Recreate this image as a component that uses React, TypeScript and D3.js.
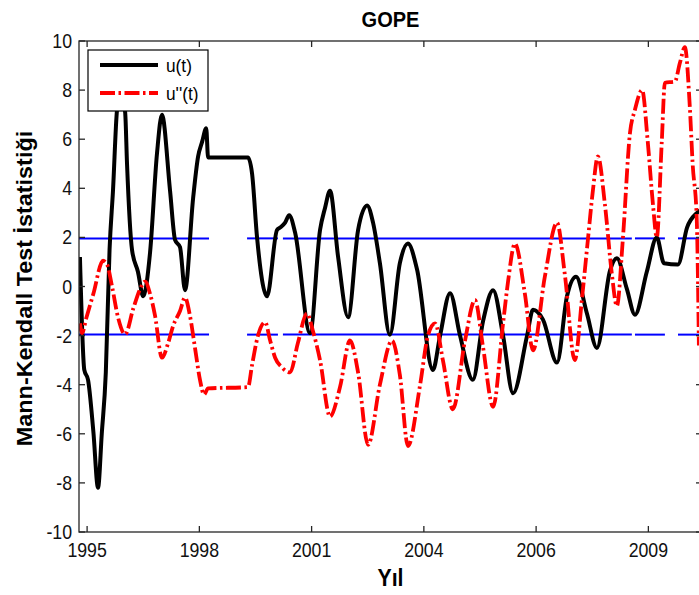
import React from "react";
import * as d3 from "d3";

const W = 699;
const H = 595;

// x positions are a running time index; tick labels are the printed years
const xTickIdx = [0, 36, 72, 108, 144, 180];
const xTickLabels = ["1995", "1998", "2001", "2004", "2006", "2009"];
const yTickValues = [-10, -8, -6, -4, -2, 0, 2, 4, 6, 8, 10];

// u(t) – progressive Mann-Kendall statistic
const uIdx = [-2.3, -0.9, 0.3, 2.0, 3.5, 4.7, 6.0, 7.2, 8.3, 9.6, 10.8, 12.2, 12.8, 14.4, 16.3, 18.0, 20.2, 22.4, 24.0, 26.6, 28.2, 29.8, 31.4, 34.0, 35.6, 36.9, 38.2, 38.8, 51.6, 52.9, 54.5, 57.7, 60.9, 61.9, 63.5, 64.8, 66.7, 71.5, 74.7, 76.3, 77.9, 80.5, 83.7, 86.9, 89.8, 91.7, 93.9, 97.1, 100.3, 102.9, 105.8, 110.9, 113.2, 116.4, 119.6, 123.7, 127.0, 130.2, 133.4, 136.6, 141.1, 143.0, 146.2, 150.7, 153.9, 156.8, 160.3, 163.5, 167.7, 169.9, 173.1, 175.7, 179.5, 182.7, 185.0, 189.5, 192.4, 195.6, 196.6];
const uVal = [1.2, -3.4, -3.8, -5.9, -8.2, -6.0, -3.5, 1.5, 3.9, 7.2, 7.9, 7.1, 5.0, 1.5, 0.6, -0.4, 1.4, 5.4, 7.0, 3.9, 1.9, 1.6, -0.15, 3.6, 5.3, 5.9, 6.45, 5.25, 5.25, 4.6, 2.0, -0.4, 2.3, 2.4, 2.6, 2.9, 2.2, -1.9, 2.3, 3.2, 3.9, 1.2, -1.25, 2.3, 3.3, 2.6, 0.95, -1.97, 0.95, 1.75, 0.7, -3.4, -2.0, -0.27, -2.0, -3.8, -1.4, -0.15, -2.0, -4.35, -2.0, -0.95, -1.35, -3.1, -0.4, 0.4, -1.1, -2.5, 0.65, 1.15, -0.1, -1.15, 0.6, 2.0, 0.95, 0.9, 2.4, 3.0, 3.1];

// u''(t) – retrograde statistic
const u2Idx = [-2.3, -1.6, -0.3, 2.0, 5.1, 6.4, 8.0, 9.9, 12.2, 14.8, 17.0, 18.6, 20.2, 21.8, 24.0, 26.0, 27.6, 29.8, 31.4, 33.0, 34.6, 36.2, 37.5, 38.8, 51.6, 52.9, 54.8, 57.1, 58.7, 60.3, 62.5, 65.1, 67.6, 70.5, 72.4, 74.7, 77.9, 81.1, 84.3, 86.9, 90.1, 93.9, 97.8, 100.3, 102.9, 106.8, 109.3, 111.6, 114.1, 117.3, 121.2, 124.4, 126.9, 130.2, 133.4, 135.0, 137.2, 140.4, 143.0, 146.8, 150.7, 153.2, 156.4, 158.7, 160.6, 162.2, 163.8, 166.1, 168.3, 169.9, 171.8, 174.1, 175.7, 178.0, 179.8, 181.5, 182.7, 184.3, 185.3, 188.5, 190.1, 191.7, 193.3, 194.2, 195.5, 196.2];
const u2Val = [-1.5, -1.9, -1.3, -0.3, 1.05, 0.9, 0.0, -1.25, -1.95, -0.9, -0.1, 0.2, -0.3, -1.2, -2.9, -2.3, -1.6, -1.0, -0.45, -1.2, -2.5, -3.8, -4.4, -4.15, -4.1, -3.2, -2.0, -1.45, -2.2, -2.9, -3.3, -3.5, -2.3, -1.1, -1.8, -3.0, -5.3, -4.1, -2.2, -3.5, -6.45, -4.0, -2.2, -3.6, -6.5, -4.0, -2.0, -1.5, -3.0, -5.0, -2.2, -0.55, -2.4, -4.9, -1.5, 0.2, 1.75, -0.3, -2.6, 0.4, 2.6, 0.5, -3.0, -0.5, 1.9, 3.9, 5.3, 3.3, 0.5, -0.8, 1.9, 6.25, 7.2, 8.0, 5.9, 3.3, 2.0, 5.9, 8.3, 8.35, 9.1, 9.75, 7.3, 5.0, 2.8, -2.4];

// ±1.96 significance limits, drawn only where data exist
const critLevels = [1.96, -1.96];
const critStart = [-2.6, 51.3, 62.8, 175.7, 189.5];
const critEnd = [39.1, 61.2, 174.7, 185.3, 197.2];

const FONT = "'Liberation Sans', Arial, Helvetica, sans-serif";
const SX = 0.91;

export default function App() {
  const left = 79, right = 702, top = 41, bottom = 532;
  const x = d3.scaleLinear().domain([-2.6, 197.2]).range([left, right]);
  const y = d3.scaleLinear().domain([-10, 10]).range([bottom, top]);

  const line = d3
    .line<[number, number]>()
    .x((d) => x(d[0]))
    .y((d) => y(d[1]))
    .curve(d3.curveMonotoneX);

  const uData: [number, number][] = uIdx.map((v, i) => [v, uVal[i]]);
  const u2Data: [number, number][] = u2Idx.map((v, i) => [v, u2Val[i]]);

  const axisColor = "#262626";
  const tickLen = 6;

  return (
    <svg
      width={W}
      height={H}
      style={{ position: "absolute", left: 0, top: 0, display: "block", background: "#fff" }}
      fontFamily={FONT}
    >
      <defs>
        <clipPath id="plotClip">
          <rect x={left} y={top} width={right - left} height={bottom - top} />
        </clipPath>
      </defs>
      <rect x={0} y={0} width={W} height={H} fill="#fff" />

      {/* title */}
      <text
        transform={`translate(${(left + right) / 2},27) scale(${SX},1)`}
        textAnchor="middle"
        fontWeight="bold"
        fontSize={22}
      >
        GOPE
      </text>

      <g clipPath="url(#plotClip)">
        {critLevels.map((lv) =>
          critStart.map((s, i) => (
            <line
              key={`c${lv}_${i}`}
              x1={x(s)}
              x2={x(critEnd[i])}
              y1={y(lv)}
              y2={y(lv)}
              stroke="#0000ff"
              strokeWidth={2}
            />
          ))
        )}
        <path d={line(uData) || ""} fill="none" stroke="#000" strokeWidth={4} strokeLinejoin="round" />
        <path
          d={line(u2Data) || ""}
          fill="none"
          stroke="#ff0000"
          strokeWidth={3.8}
          strokeDasharray="15,3.5,2.5,3.5"
        />
      </g>

      {/* axes box */}
      <rect x={left} y={top} width={right - left} height={bottom - top} fill="none" stroke={axisColor} strokeWidth={1.3} />

      {/* x ticks */}
      {xTickIdx.map((t, i) => (
        <g key={`xt${i}`}>
          <line x1={x(t)} x2={x(t)} y1={bottom} y2={bottom - tickLen} stroke={axisColor} strokeWidth={1.3} />
          <line x1={x(t)} x2={x(t)} y1={top} y2={top + tickLen} stroke={axisColor} strokeWidth={1.3} />
          <text
            transform={`translate(${x(t)},557) scale(${SX},1)`}
            textAnchor="middle"
            fontSize={19.5}
            fill="#111"
          >
            {xTickLabels[i]}
          </text>
        </g>
      ))}

      {/* y ticks */}
      {yTickValues.map((v) => (
        <g key={`yt${v}`}>
          <line x1={left} x2={left + tickLen} y1={y(v)} y2={y(v)} stroke={axisColor} strokeWidth={1.3} />
          <line x1={right} x2={right - tickLen} y1={y(v)} y2={y(v)} stroke={axisColor} strokeWidth={1.3} />
          <text
            transform={`translate(72,${y(v) + 7}) scale(${SX},1)`}
            textAnchor="end"
            fontSize={19.5}
            fill="#111"
          >
            {v}
          </text>
        </g>
      ))}

      {/* axis labels */}
      <text
        transform={`translate(${(left + right) / 2},586) scale(${SX},1)`}
        textAnchor="middle"
        fontWeight="bold"
        fontSize={23.4}
      >
        Yıl
      </text>
      <text
        transform={`translate(31.5,${(top + bottom) / 2 + 2}) scale(${SX},1) rotate(-90)`}
        textAnchor="middle"
        fontWeight="bold"
        fontSize={23.4}
      >
        Mann-Kendall Test İstatistiği
      </text>

      {/* legend */}
      <g>
        <rect x={88} y={50} width={120} height={61} fill="#fff" stroke="#000" strokeWidth={1.2} />
        <line x1={100} x2={158} y1={65} y2={65} stroke="#000" strokeWidth={4} />
        <line x1={100} x2={158} y1={93} y2={93} stroke="#ff0000" strokeWidth={3.8} strokeDasharray="15,3.5,2.5,3.5" />
        <text transform={`translate(166,71.5) scale(${SX},1)`} fontSize={19}>
          u(t)
        </text>
        <text transform={`translate(166,99.5) scale(${SX},1)`} fontSize={19}>
          u''(t)
        </text>
      </g>
    </svg>
  );
}
